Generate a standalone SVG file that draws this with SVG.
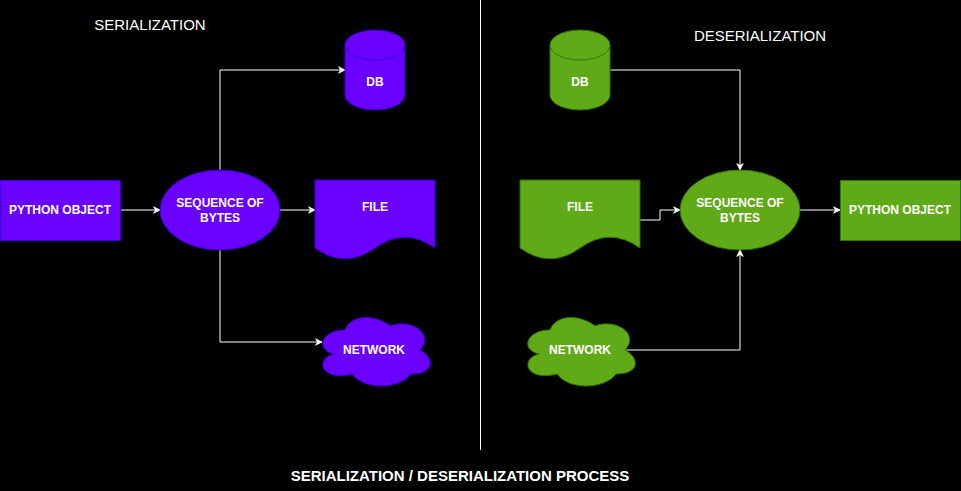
<svg xmlns="http://www.w3.org/2000/svg" xmlns:xlink="http://www.w3.org/1999/xlink" width="961" height="491" viewBox="0 0 961 491">
<style>
.purple{fill:#6a00ff;stroke:#3700cc;stroke-width:1}
.green{fill:#60a917;stroke:#2d7600;stroke-width:1}
.lbl{font-family:"Liberation Sans",Arial,sans-serif;font-size:12px;font-weight:bold;fill:#ffffff;text-anchor:middle}
.title{font-family:"Liberation Sans",Arial,sans-serif;font-size:15px;fill:#ffffff;text-anchor:middle}
.edge{fill:none;stroke:#ffffff;stroke-width:1}
</style>
<defs>
<marker id="arr" viewBox="0 0 10 10" refX="9" refY="5" markerWidth="8" markerHeight="8" markerUnits="userSpaceOnUse" orient="auto">
<path d="M1,1 L9,5 L1,9 L3.5,5 Z" fill="#ffffff" stroke="#ffffff" stroke-width="1"/>
</marker>
<path id="cloud" d="M30,20 C6,20 0,40 19.2,44 C0,48 4.8,72 37.2,64 C48,80 84,80 96,64 C120,64 120,48 105,40 C120,24 96,8 75,16 C60,4 36,4 30,20 Z"/>
<path id="doc" d="M0,0 H120 V68 Q90,46.4 60,68 T0,68 Z"/>
</defs>
<rect width="961" height="491" fill="#000000"/>

<line x1="480.5" y1="0" x2="480.5" y2="450" stroke="#ffffff" stroke-width="1"/>
<text class="title" x="150" y="30">SERIALIZATION</text>
<text class="title" x="760" y="41">DESERIALIZATION</text>
<text class="title" x="460" y="481" font-weight="bold">SERIALIZATION / DESERIALIZATION PROCESS</text>

<g id="connectors">
<path class="edge" d="M120,210 H160" marker-end="url(#arr)"/>
<path class="edge" d="M220,170 V70 H345" marker-end="url(#arr)"/>
<path class="edge" d="M280,210 H315" marker-end="url(#arr)"/>
<path class="edge" d="M220,250 V342 H322" marker-end="url(#arr)"/>
<path class="edge" d="M610,70 H740 V170" marker-end="url(#arr)"/>
<path class="edge" d="M640,220 H660 V210 H680" marker-end="url(#arr)"/>
<path class="edge" d="M626,350 H740 V250" marker-end="url(#arr)"/>
<path class="edge" d="M800,210 H840" marker-end="url(#arr)"/>
</g>

<g id="s-python">
<rect class="purple" x="0.5" y="180.5" width="120" height="60"/>
<text class="lbl" x="60" y="214">PYTHON OBJECT</text>
</g>
<g id="s-bytes">
<ellipse class="purple" cx="220" cy="210" rx="60" ry="40"/>
<text class="lbl" x="220" y="207">SEQUENCE OF</text>
<text class="lbl" x="220" y="222">BYTES</text>
</g>
<g id="s-db">
<path class="purple" d="M345,45 A30,15 0 0 1 405,45 V95 A30,15 0 0 1 345,95 Z"/>
<path class="purple" fill="none" d="M345,45 A30,15 0 0 0 405,45"/>
<text class="lbl" x="375" y="86">DB</text>
</g>
<g id="s-file">
<use xlink:href="#doc" class="purple" transform="translate(315,180)"/>
<text class="lbl" x="375" y="211">FILE</text>
</g>
<g id="s-network">
<use xlink:href="#cloud" class="purple" transform="translate(315,310)"/>
<text class="lbl" x="374" y="354">NETWORK</text>
</g>

<g id="d-db">
<path class="green" d="M550,45 A30,15 0 0 1 610,45 V95 A30,15 0 0 1 550,95 Z"/>
<path class="green" fill="none" d="M550,45 A30,15 0 0 0 610,45"/>
<text class="lbl" x="580" y="86">DB</text>
</g>
<g id="d-file">
<use xlink:href="#doc" class="green" transform="translate(520,180)"/>
<text class="lbl" x="580" y="211">FILE</text>
</g>
<g id="d-network">
<use xlink:href="#cloud" class="green" transform="translate(520,310)"/>
<text class="lbl" x="580" y="354">NETWORK</text>
</g>
<g id="d-bytes">
<ellipse class="green" cx="740" cy="210" rx="60" ry="40"/>
<text class="lbl" x="740" y="207">SEQUENCE OF</text>
<text class="lbl" x="740" y="222">BYTES</text>
</g>
<g id="d-python">
<rect class="green" x="840.5" y="180.5" width="120" height="60"/>
<text class="lbl" x="900" y="214">PYTHON OBJECT</text>
</g>
</svg>
